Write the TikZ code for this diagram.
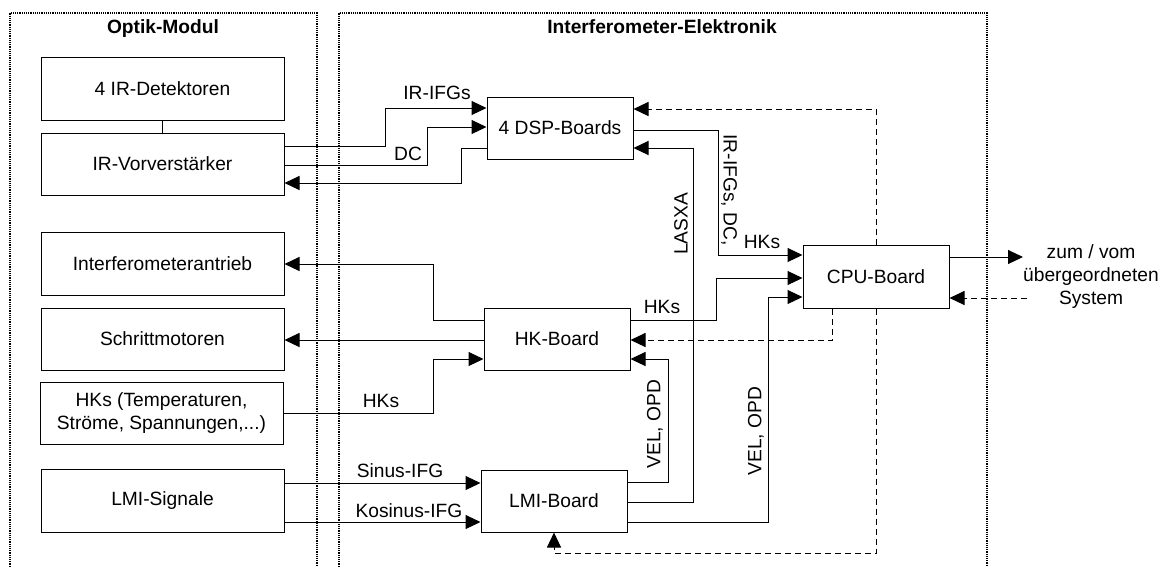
\documentclass[tikz,border=0pt]{standalone}
\usepackage{fontspec}
\setmainfont{Liberation Sans}
\usetikzlibrary{arrows.meta}
\newcommand\fsz{\fontsize{19.2}{23}\selectfont}
\tikzset{
  box/.style={draw, line width=1pt, inner sep=0pt, align=center, font=\fsz,
              minimum width=243pt, minimum height=62pt},
  board/.style={box, minimum width=146pt},
  con/.style={line width=1pt, -{Triangle[length=15pt,width=14pt]}},
  dsh/.style={con, dash pattern=on 6pt off 4pt},
  frm/.style={line width=1.5pt, dash pattern=on 1.2pt off 1pt},
  lbl/.style={inner sep=0pt, font=\fsz},
  ttl/.style={inner sep=0pt, font=\fsz\bfseries}
}
\begin{document}
\begin{tikzpicture}[x=1pt,y=-1pt]
\useasboundingbox (0,0) rectangle (1162,566);
\begin{scope}
\clip (0,0) rectangle (1162,566);
% frames
\draw[frm] (10,580) -- (10,13) -- (317,13) -- (317,580);
\draw[frm] (339,580) -- (339,13) -- (987,13) -- (987,580);
\end{scope}
\node[ttl, anchor=base] (t1) at (163,33) {Optik-Modul};
\node[ttl, anchor=base] (t2) at (662,33) {Interferometer-Elektronik};

% left boxes
\node[box, minimum height=63pt] (det) at (162.5,88.5) {4 IR-Detektoren};
\node[box] (vor) at (162.5,164) {IR-Vorverst\"arker};
\node[box, minimum height=63pt] (ant) at (162.5,263.5) {Interferometerantrieb};
\node[box] (sch) at (162.5,339) {Schrittmotoren};
\node[box] (hks) at (161.5,413) {HKs (Temperaturen,\\Str\"ome, Spannungen,...)};
\node[box, minimum height=63pt] (lmis) at (162.5,500.5) {LMI-Signale};

% boards
\node[board] (dsp) at (560,128) {4 DSP-Boards};
\node[board] (hk) at (557,339) {HK-Board};
\node[board] (lmi) at (554,501) {LMI-Board};
\node[board, minimum height=63pt] (cpu) at (876,276.5) {CPU-Board};

\coordinate (ext1) at (1023,257);
\coordinate (ext2) at (1027,298);

% connectors
\draw[line width=1pt] (det.south) -- (vor.north);
\draw[con] (vor.east |- 0,146) -- (385,146) |- (dsp.west |- 0,108);
\draw[con] (vor.east |- 0,165) -- (427,165) |- (dsp.west |- 0,127);
\draw[con] (dsp.west |- 0,148) -- (461,148) |- (vor.east |- 0,183);
\draw[dsh] (cpu.north) |- (dsp.east |- 0,109);
\draw[dsh] (cpu.south) |- (554,553) -- (lmi.south);
\draw[con] (dsp.east |- 0,130) -- (718,130) |- (cpu.west |- 0,255);
\draw[con] (lmi.east |- 0,502) -- (693,502) |- (dsp.east |- 0,148);
\draw[con] (hk.west |- 0,320) -- (433,320) |- (ant.east |- 0,264);
\draw[con] (hk.west |- 0,340) -- (sch.east |- 0,340);
\draw[con] (hks.east |- 0,413) -- (433,413) |- (hk.west |- 0,359);
\draw[con] (hk.east |- 0,320) -- (716,320) |- (cpu.west |- 0,278);
\draw[dsh] (cpu.south -| 832,0) |- (hk.east |- 0,340);
\draw[con] (lmi.east |- 0,482) -- (668,482) |- (hk.east |- 0,359);
\draw[con] (lmi.east |- 0,522) -- (768,522) |- (cpu.west |- 0,297);
\draw[con] (lmis.east |- 0,483) -- (lmi.west |- 0,483);
\draw[con] (lmis.east |- 0,522) -- (lmi.west |- 0,522);
\draw[con] (cpu.east |- 0,257) -- (ext1);
\draw[dsh] (ext2) -- (cpu.east |- 0,298);

% labels
\node[lbl, anchor=base] (l1) at (437,99) {IR-IFGs};
\node[lbl, anchor=base] (l2) at (408,160) {DC};
\node[lbl, rotate=-90] (l3) at (729,190) {IR-IFGs, DC,};
\node[lbl, anchor=base] (l4) at (762,248) {HKs};
\node[lbl, rotate=90] (l5) at (681,224) {LASXA};
\node[lbl, anchor=base] (l6) at (662,313) {HKs};
\node[lbl, anchor=base] (l7) at (381,407) {HKs};
\node[lbl, rotate=90] (l8) at (655,424) {VEL, OPD};
\node[lbl, rotate=90] (l9) at (756,431) {VEL, OPD};
\node[lbl, anchor=base] (l10) at (400,477) {Sinus-IFG};
\node[lbl, anchor=base] (l11) at (409,517) {Kosinus-IFG};
\node[lbl, align=center] (l12) at (1091,277) {zum / vom\\\"ubergeordneten\\System};
\end{tikzpicture}
\end{document}
